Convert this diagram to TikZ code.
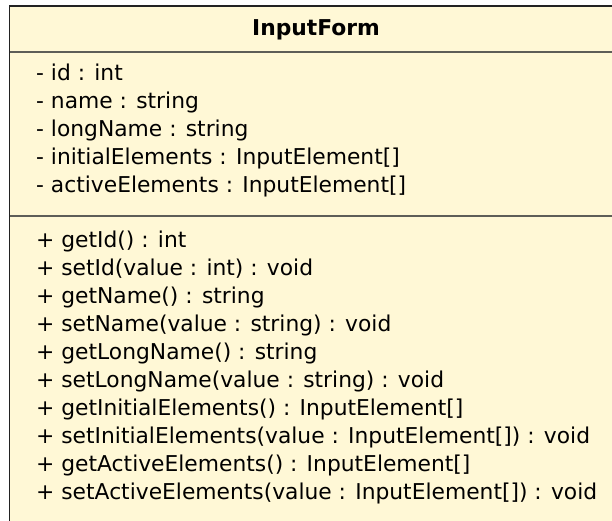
\documentclass[tikz,border=0pt]{standalone}
\usepackage{fontspec}
\setmainfont{DejaVu Sans}
\definecolor{classfill}{HTML}{FFF8D6}
\definecolor{classedge}{HTML}{222222}
\definecolor{divider}{HTML}{5E5E58}
\begin{document}
\begin{tikzpicture}[x=1pt,y=1pt,
  member/.style={anchor=base west, inner sep=0pt, text=black, font=\fontsize{21.8}{26}\selectfont},
  title/.style={anchor=base, inner sep=0pt, text=black, font=\fontsize{21.8}{26}\selectfont\bfseries}]
\useasboundingbox (0,0) rectangle (612,-521);
\fill[white] (0,0) rectangle (612,-521);
\begin{scope}
\clip (0,0) rectangle (612,-521);
% class box
\draw[fill=classfill, draw=classedge, line width=1.6pt] (9.5,-6) rectangle (622,-540);
\draw[draw=divider, line width=1.8pt] (9.5,-52) -- (622,-52);
\draw[draw=divider, line width=1.8pt] (9.5,-216) -- (622,-216);
\end{scope}
% class name
\node[title] (name) at (316,-36) {InputForm};
% attributes
\node[member] (a1) at (36,-81) {- id : int};
\node[member] (a2) at (36,-109) {- name : string};
\node[member] (a3) at (36,-137) {- longName : string};
\node[member] (a4) at (36,-165) {- initialElements : InputElement[]};
\node[member] (a5) at (36,-193) {- activeElements : InputElement[]};
% operations
\node[member] (m1) at (36,-247) {+ getId() : int};
\node[member] (m2) at (36,-275) {+ setId(value : int) : void};
\node[member] (m3) at (36,-303) {+ getName() : string};
\node[member] (m4) at (36,-331) {+ setName(value : string) : void};
\node[member] (m5) at (36,-359) {+ getLongName() : string};
\node[member] (m6) at (36,-387) {+ setLongName(value : string) : void};
\node[member] (m7) at (36,-415) {+ getInitialElements() : InputElement[]};
\node[member] (m8) at (36,-443) {+ setInitialElements(value : InputElement[]) : void};
\node[member] (m9) at (36,-471) {+ getActiveElements() : InputElement[]};
\node[member] (m10) at (36,-499) {+ setActiveElements(value : InputElement[]) : void};
\end{tikzpicture}
\end{document}
